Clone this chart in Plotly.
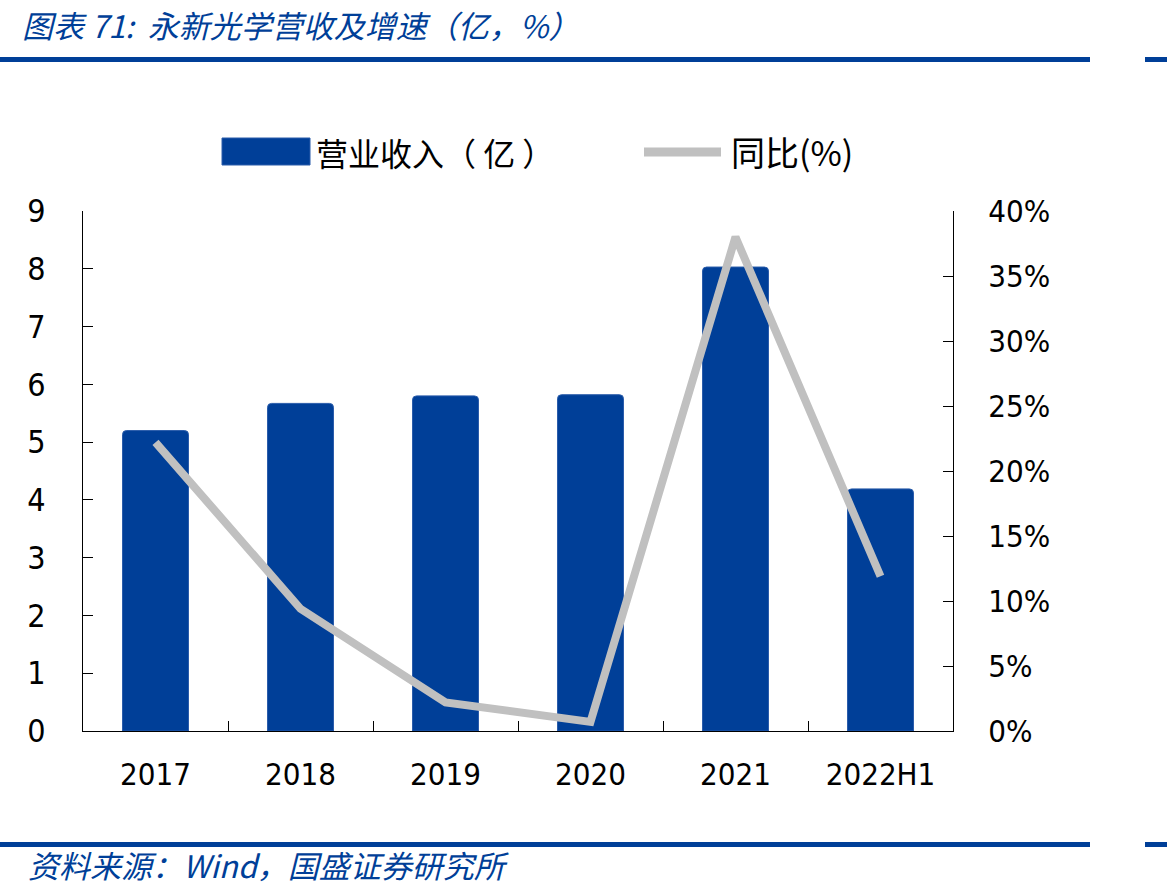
import plotly.graph_objects as go

categories = ["2017", "2018", "2019", "2020", "2021", "2022H1"]
revenue = [5.2, 5.67, 5.8, 5.82, 8.03, 4.19]
yoy_pct = [22.2, 9.4, 2.2, 0.7, 38.0, 11.9]

left_ticks = list(range(0, 10))
right_ticks = list(range(0, 45, 5))
right_labels = [f"{v}%" for v in right_ticks]

BLUE = "#003F98"
GRAY = "#C0C0C0"
NUM_FONT = "DejaVu Sans Condensed, DejaVu Sans, Verdana, sans-serif"
CJK_FONT = "Noto Sans CJK SC, sans-serif"

fig = go.Figure()
fig.add_trace(go.Bar(
    x=categories, y=revenue, name="营业收入（亿）",
    marker=dict(color=BLUE, line=dict(color="#2a5caa", width=1), cornerradius=4),
    width=0.455, showlegend=False,
))
fig.add_trace(go.Scatter(
    x=categories, y=yoy_pct, name="同比(%)", yaxis="y2", mode="lines",
    line=dict(color=GRAY, width=8), showlegend=False,
))

fig.update_layout(
    width=1167, height=896,
    margin=dict(l=83, r=214, t=211, b=165),
    paper_bgcolor="white", plot_bgcolor="white",
    xaxis=dict(
        type="category", showline=True, linecolor="black", linewidth=1,
        ticks="inside", ticklen=10, tickcolor="black", tickson="boundaries",
        tickfont=dict(family=NUM_FONT, size=31, color="black"),
        ticklabelstandoff=16, showgrid=False, zeroline=False,
    ),
    yaxis=dict(
        range=[0, 9], tickvals=left_ticks, showline=True, linecolor="black", linewidth=1,
        ticks="inside", ticklen=10, tickcolor="black",
        tickfont=dict(family=NUM_FONT, size=32, color="black"),
        ticklabelstandoff=30, showgrid=False, zeroline=False,
    ),
    yaxis2=dict(
        range=[0, 40], tickvals=right_ticks, ticktext=right_labels,
        overlaying="y", side="right",
        showline=True, linecolor="black", linewidth=1,
        ticks="inside", ticklen=10, tickcolor="black",
        tickfont=dict(family=NUM_FONT, size=31, color="black"),
        ticklabelstandoff=28, showgrid=False, zeroline=False,
    ),
    bargap=0.5,
)

def px_x(x):
    return (x - 83) / 870

def px_y(y):
    return 1 - (y - 211) / 520

# header / footer rules
for y0, y1 in [(57, 62), (842, 847)]:
    fig.add_shape(type="rect", xref="paper", yref="paper",
                  x0=px_x(0), x1=px_x(1090), y0=px_y(y1), y1=px_y(y0),
                  fillcolor=BLUE, line=dict(width=0), layer="above")
    fig.add_shape(type="rect", xref="paper", yref="paper",
                  x0=px_x(1145), x1=px_x(1167), y0=px_y(y1), y1=px_y(y0),
                  fillcolor=BLUE, line=dict(width=0), layer="above")

# custom legend
fig.add_shape(type="rect", xref="paper", yref="paper",
              x0=px_x(222), x1=px_x(310), y0=px_y(165), y1=px_y(138),
              fillcolor=BLUE, line=dict(color="#2a5caa", width=1))
fig.add_shape(type="line", xref="paper", yref="paper",
              x0=px_x(644), x1=px_x(721), y0=px_y(152), y1=px_y(152),
              line=dict(color=GRAY, width=9))
fig.add_annotation(xref="paper", yref="paper", x=px_x(314), y=px_y(152),
                   text="营业收入（ 亿 ）", showarrow=False, xanchor="left", yanchor="middle",
                   font=dict(family=CJK_FONT, size=32, color="black"))
fig.add_annotation(xref="paper", yref="paper", x=px_x(729), y=px_y(152),
                   text="同比(%)", showarrow=False, xanchor="left", yanchor="middle",
                   font=dict(family=CJK_FONT, size=34, color="black"))

# title and source
fig.add_annotation(xref="paper", yref="paper", x=px_x(20), y=px_y(25),
                   text="<i>图表 71:  永新光学营收及增速（亿，%）</i>", showarrow=False,
                   xanchor="left", yanchor="middle",
                   font=dict(family=CJK_FONT, size=31, color=BLUE))
fig.add_annotation(xref="paper", yref="paper", x=px_x(26), y=px_y(864),
                   text="<i>资料来源：Wind，国盛证券研究所</i>", showarrow=False,
                   xanchor="left", yanchor="middle",
                   font=dict(family=CJK_FONT, size=31, color=BLUE))

fig.write_html("out.html")
